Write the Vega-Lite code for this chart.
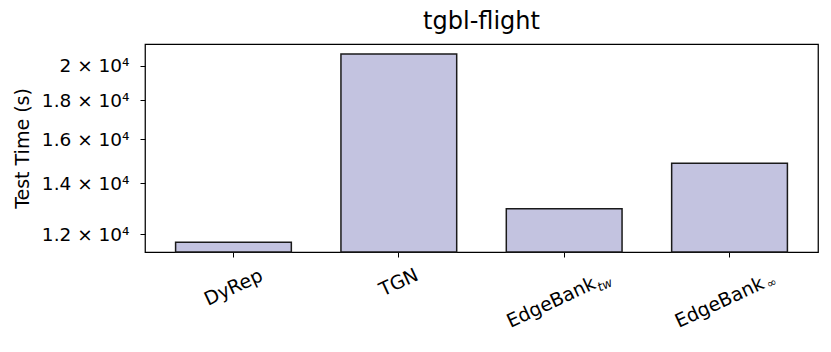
{
  "$schema": "https://vega.github.io/schema/vega-lite/v6.json",
  "autosize": {"type": "none"},
  "padding": {"left": 145, "top": 44, "right": 13, "bottom": 100},
  "width": 673,
  "height": 208,
  "background": "white",
  "config": {
    "font": "DejaVu Sans",
    "view": {"stroke": "black", "strokeWidth": 1.25},
    "axis": {"grid": false, "domain": false, "tickColor": "black", "tickWidth": 1, "tickSize": 5, "labelColor": "black", "titleColor": "black", "labelFont": "DejaVu Sans", "titleFont": "DejaVu Sans"}
  },
  "title": {"text": "tgbl-flight", "fontSize": 24, "fontWeight": "normal", "font": "DejaVu Sans", "color": "black", "offset": 10, "anchor": "middle"},
  "data": {"values": [
    {"model": "DyRep", "time": 11701, "sub": ""},
    {"model": "TGN", "time": 20722, "sub": ""},
    {"model": "EdgeBank_tw", "time": 12958, "sub": "tw"},
    {"model": "EdgeBank_inf", "time": 14874, "sub": "∞"}
  ]},
  "encoding": {
    "x": {
      "field": "model", "type": "nominal", "sort": null,
      "scale": {"paddingInner": 0.3, "paddingOuter": 0.185},
      "axis": {
        "title": null,
        "labelAngle": -25,
        "labelAlign": "center",
        "labelBaseline": "middle",
        "labelFontSize": 19,
        "labelExpr": "split(datum.value, '_')[0]",
        "labelPadding": {"condition": [
          {"test": "datum.value == 'DyRep'", "value": 30},
          {"test": "datum.value == 'TGN'", "value": 25},
          {"test": "datum.value == 'EdgeBank_tw'", "value": 45}
        ], "value": 45},
        "labelOffset": {"condition": [
          {"test": "datum.value == 'EdgeBank_tw'", "value": -13},
          {"test": "datum.value == 'EdgeBank_inf'", "value": -10}
        ], "value": 0}
      }
    }
  },
  "layer": [
    {
      "mark": {"type": "bar", "fill": "#c3c3e0", "stroke": "#1a1a1a", "strokeWidth": 1.5},
      "encoding": {
        "y": {
          "field": "time", "type": "quantitative",
          "scale": {"type": "log", "domain": [11363, 21361], "nice": false, "zero": false},
          "axis": {
            "title": "Test Time (s)",
            "titleFontSize": 19,
            "titleFontWeight": "normal",
            "titlePadding": 9,
            "labelFontSize": 18.5,
            "labelPadding": 11,
            "values": [12000, 14000, 16000, 18000, 20000],
            "labelExpr": "format(datum.value / 10000, '~g') + ' × 10⁴'"
          }
        },
        "y2": {"datum": 11363}
      }
    },
    {
      "transform": [{"filter": "datum.sub == 'tw'"}],
      "mark": {"type": "text", "angle": 335, "align": "center", "baseline": "middle", "fontSize": 12.5, "fontStyle": "italic", "dx": 23, "dy": 47, "color": "black"},
      "encoding": {
        "y": {"datum": 11363, "type": "quantitative"},
        "text": {"field": "sub"}
      }
    },
    {
      "transform": [{"filter": "datum.sub == '∞'"}],
      "mark": {"type": "text", "angle": 335, "align": "center", "baseline": "middle", "fontSize": 12, "dx": 25, "dy": 46, "color": "black"},
      "encoding": {
        "y": {"datum": 11363, "type": "quantitative"},
        "text": {"field": "sub"}
      }
    }
  ]
}
